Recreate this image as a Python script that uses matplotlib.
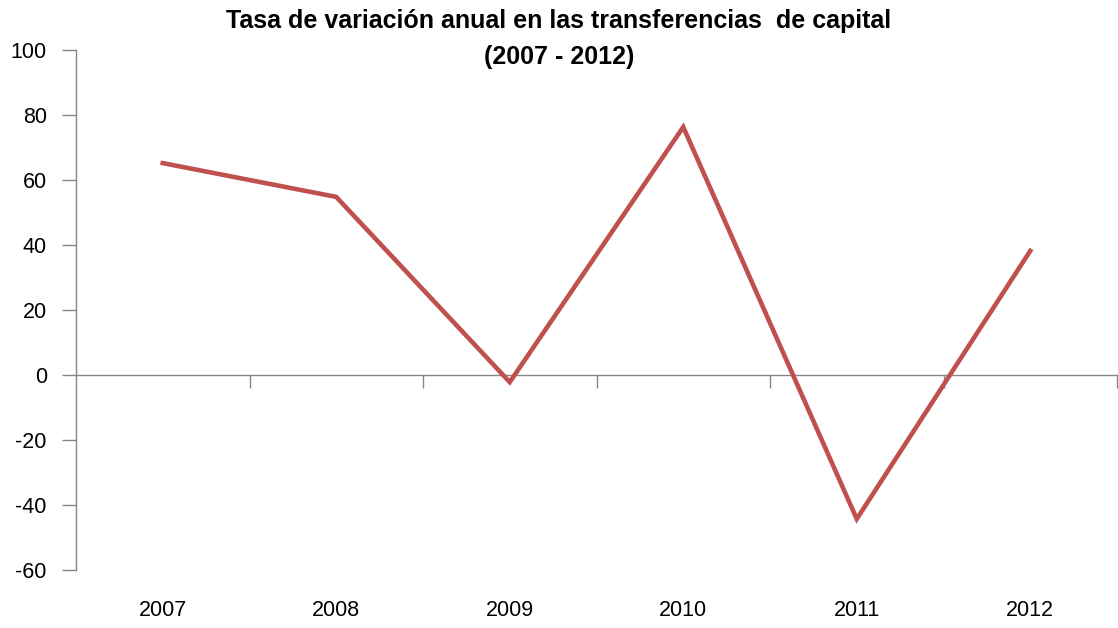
import matplotlib
matplotlib.use('Agg')
import matplotlib.pyplot as plt
import matplotlib.transforms as mtransforms

### Data

years = ['2007', '2008', '2009', '2010', '2011', '2012']
variacion = [65.2, 54.8, -2.2, 76.3, -44.3, 38.2]
y_ticks = [-60, -40, -20, 0, 20, 40, 60, 80, 100]

plt.rcParams['font.family'] = ['Liberation Sans Narrow', 'Liberation Sans', 'DejaVu Sans']

### Figure

fig = plt.figure(figsize=(11.18, 6.28), dpi=100)
ax = fig.add_axes([76 / 1118, 1 - 570 / 628, (1117 - 76) / 1118, 520 / 628])

x = list(range(len(years)))
ax.plot(x, variacion, color='#C0504D', linewidth=3.3, solid_joinstyle='miter', zorder=3)

ax.set_xlim(-0.5, len(years) - 0.5)
ax.set_ylim(-60, 100)

# spines
axis_grey = '#868686'
for side in ['top', 'right']:
    ax.spines[side].set_visible(False)
ax.spines['left'].set_color(axis_grey)
ax.spines['left'].set_linewidth(1.0)
ax.spines['bottom'].set_position(('data', 0))
ax.spines['bottom'].set_color(axis_grey)
ax.spines['bottom'].set_linewidth(1.0)

# y ticks
ax.set_yticks(y_ticks)
ax.set_yticklabels([str(v) for v in y_ticks])
ax.tick_params('y', direction='out', length=10, width=1.0, color=axis_grey,
               labelsize=15.5, pad=11, labelcolor='#000000')

# x ticks: marks at category boundaries on the zero line
ax.set_xticks([i + 0.5 for i in x])
ax.set_xticklabels([])
ax.tick_params('x', direction='out', length=9, width=1.0, color=axis_grey)

# category labels below the plot
trans = mtransforms.blended_transform_factory(ax.transData, ax.transAxes)
for xi, lab in zip(x, years):
    ax.text(xi, -40 / 520, lab, transform=trans, ha='center', va='center',
            fontsize=15.5, color='#000000')

fig.text(0.5, 1 - 21 / 628, 'Tasa de variación anual en las transferencias  de capital',
         ha='center', va='center', fontsize=18, fontweight='bold')
fig.text(0.5, 1 - 57 / 628, '(2007 - 2012)',
         ha='center', va='center', fontsize=18, fontweight='bold')

fig.savefig('out.png', dpi=100)
plt.close(fig)
